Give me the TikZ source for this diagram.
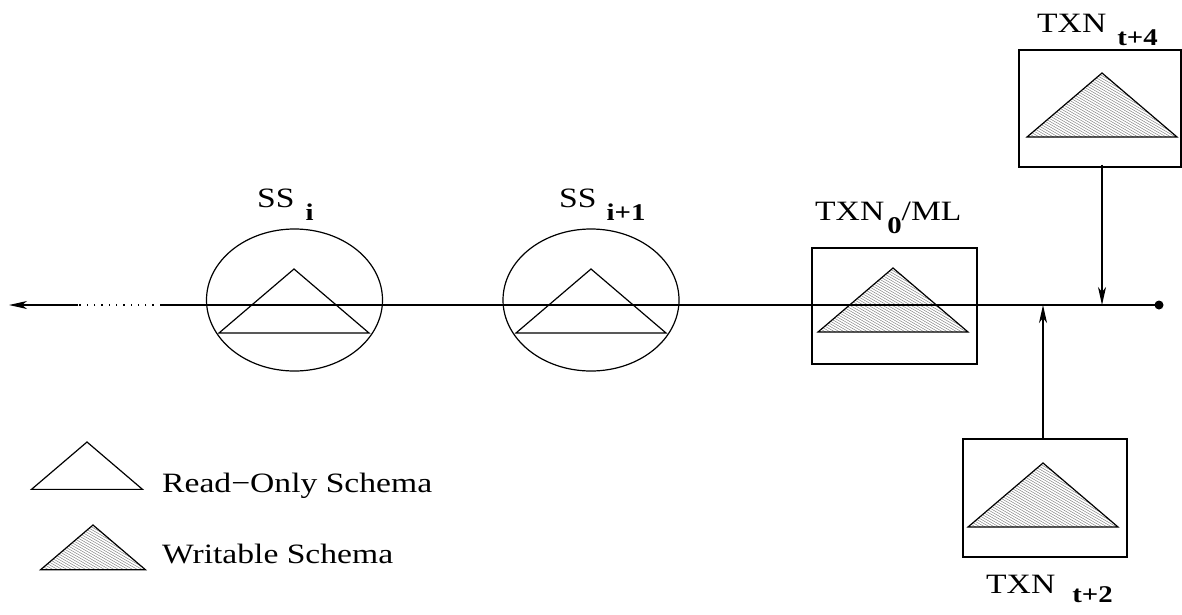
\documentclass[tikz,border=0pt]{standalone}
\usepackage{fontspec}
\setmainfont{Liberation Serif}[FakeStretch=1.2]
\usetikzlibrary{arrows.meta,calc,shapes.geometric}
\newcommand\subtxt[2][-13pt]{\raisebox{#1}{\fontsize{24}{26}\selectfont\bfseries #2}}
\newcommand\wtri[3]{% apex x, apex y, scale
  \begin{scope}
    \clip (#1,#2) -- ++({-75*#3},{64*#3}) -- ++({150*#3},0) -- cycle;
    \foreach \k in {-45,...,3}
      \draw[hatch] ({#1+\k*4.7},#2) -- ++(200,115);
  \end{scope}
  \draw[tri] (#1,#2) -- ++({-75*#3},{64*#3}) -- ++({150*#3},0) -- cycle;
}
\newcommand\rtri[3]{%
  \draw[tri] (#1,#2) -- ++({-75*#3},{64*#3}) -- ++({150*#3},0) -- cycle;
}
\begin{document}
\begin{tikzpicture}[x=1pt,y=-1pt,
  ln/.style={line width=1.3pt},
  tri/.style={line width=1.2pt, line join=miter},
  hatch/.style={black!50, line width=0.45pt},
  box/.style={draw, line width=1.3pt, inner sep=0pt},
  arr/.style={line width=1.3pt, -{Stealth[length=18pt,width=8pt,inset=5pt]}},
  lbl/.style={font=\fontsize{28}{32}\selectfont, inner sep=0pt, anchor=base west},
  schema/.style={draw, ellipse, line width=1.2pt, inner sep=0pt, minimum width=176pt, minimum height=142pt}]
\useasboundingbox (0,0) rectangle (1182,614);

% schema circles
\node[schema] (e1) at (294.5,300) {};
\node[schema] (e2) at (591,300) {};
\rtri{294}{269}{1}
\rtri{591}{269}{1}

% boxes
\node[box, minimum width=165pt, minimum height=116pt] (b0) at (894.5,306) {};
\node[box, minimum width=162pt, minimum height=117pt] (t4) at (1100,108.5) {};
\node[box, minimum width=164pt, minimum height=118pt] (t2) at (1045,498) {};
\wtri{893}{268}{1}
\wtri{1102}{73}{1}
\wtri{1043}{463}{1}

% main line
\node[circle, fill, inner sep=0pt, minimum size=9pt] (end) at (1159,305) {};
\coordinate (d1) at (161,305);
\coordinate (d2) at (78,305);
\coordinate (tip) at (9,305);
\draw[ln] (end.center) -- (d1);
\draw[line width=1.3pt, dash pattern=on 1.3pt off 6pt] (d1) -- (d2);
\draw[arr] (d2) -- (tip);

% incoming transactions
\coordinate (j4) at (1102,305);
\coordinate (j2) at (1043,305);
\draw[arr] ([yshift=3pt]t4.south -| j4) -- (j4);
\draw[arr] (t2.north -| j2) -- (j2);

% labels
\node[lbl] (lssi) at (257,207) {SS\hspace{11pt}\subtxt{i}};
\node[lbl] (lssj) at (559,207) {SS\hspace{10pt}\subtxt{i+1}};
\node[lbl] (lb0) at (815,220) {TXN\hspace{3pt}\subtxt{0}/ML};
\node[lbl] (lt4) at (1037,32) {TXN\hspace{11pt}\subtxt{t+4}};
\node[lbl] (lt2) at (986,593) {TXN\hspace{17pt}\subtxt[-9pt]{t+2}};

% legend
\rtri{87}{442}{0.74}
\wtri{93}{525}{0.70}
\node[lbl] (lro) at (162,492) {Read−Only Schema};
\node[lbl] (lwr) at (162,563) {Writable Schema};
\end{tikzpicture}
\end{document}
